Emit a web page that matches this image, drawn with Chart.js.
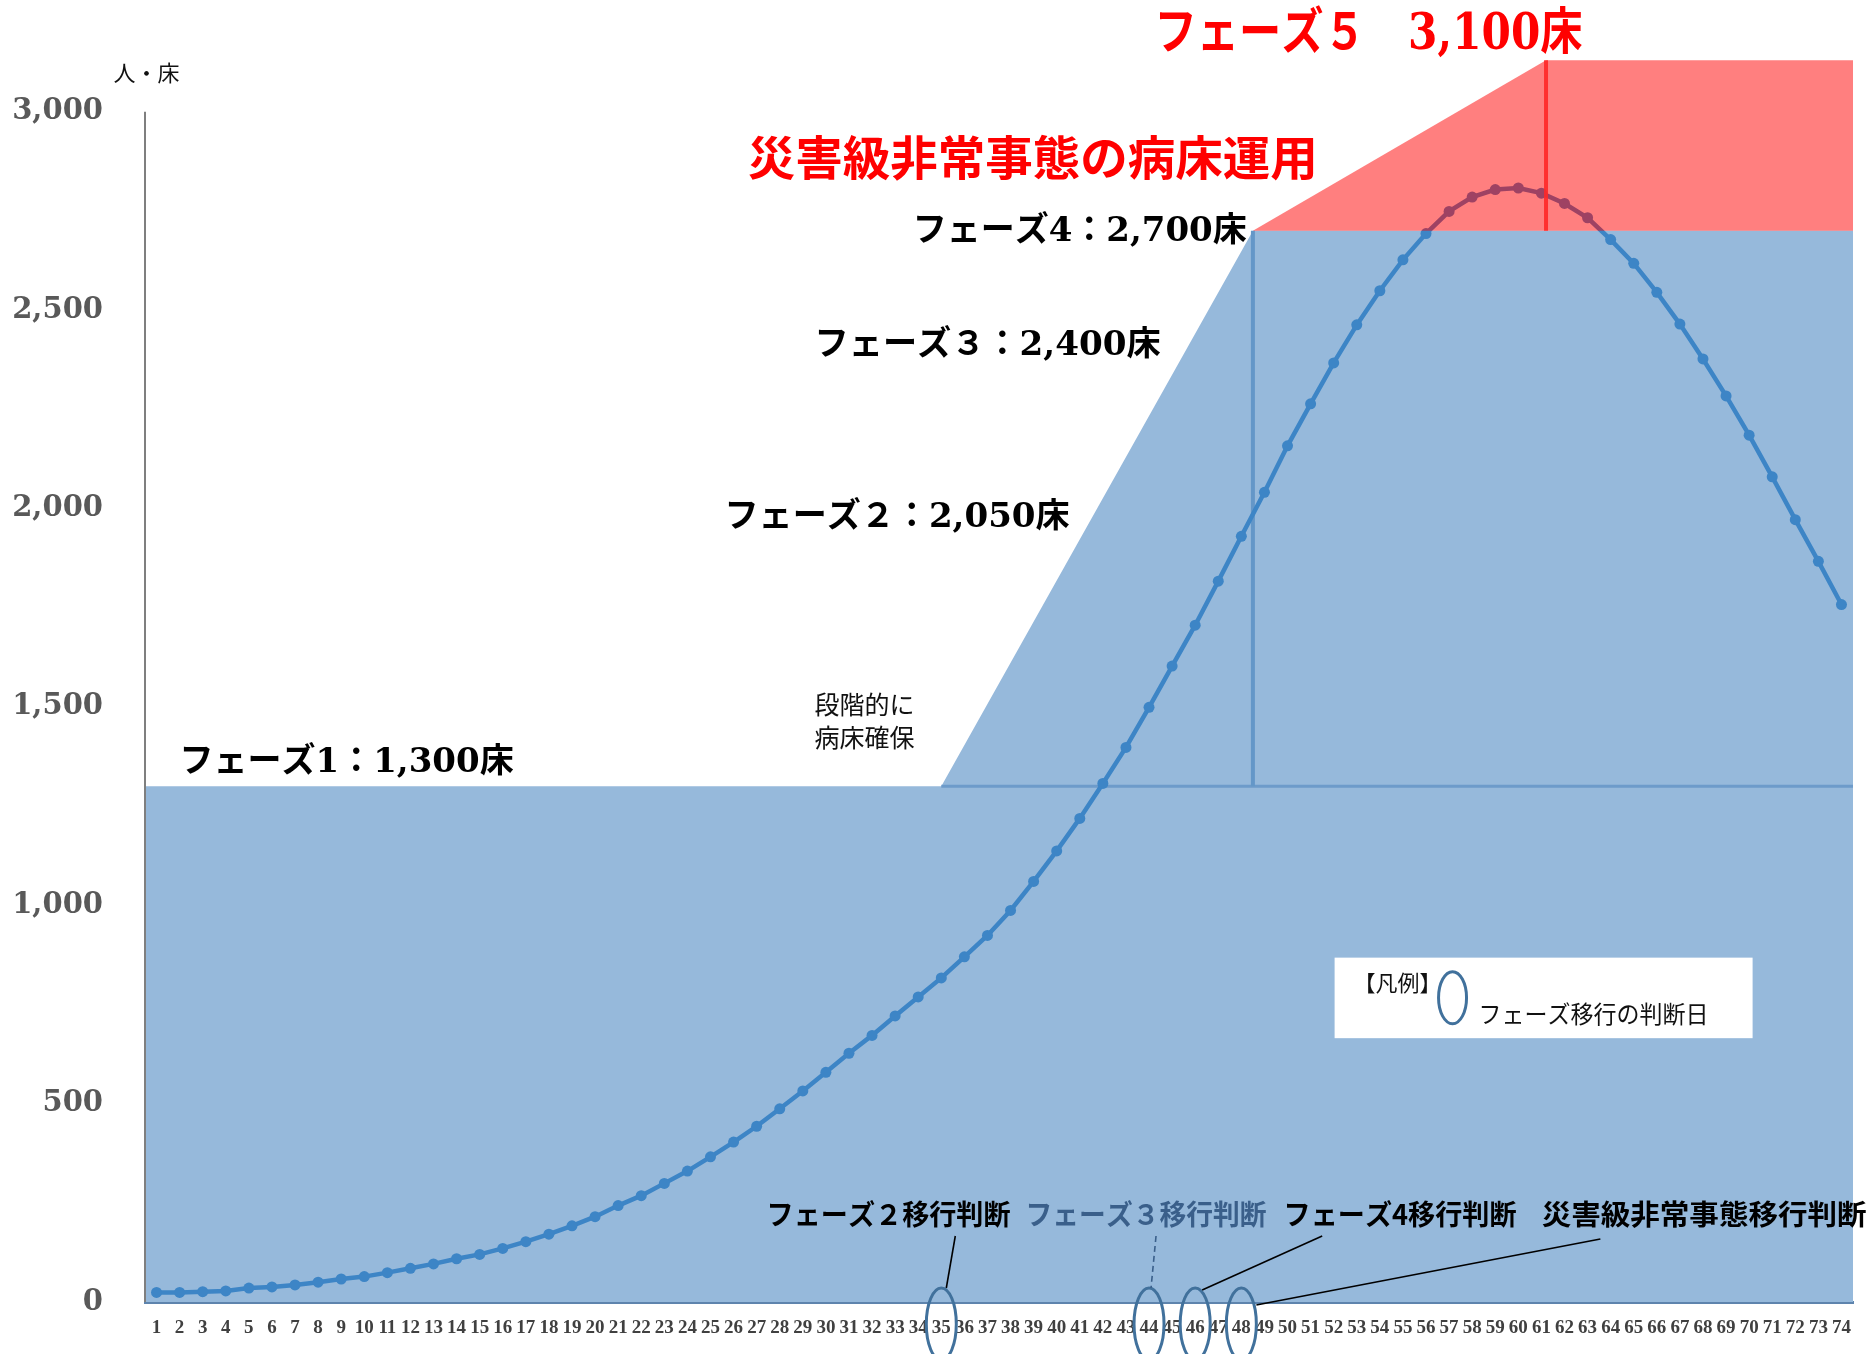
<!DOCTYPE html>
<html lang="ja">
<head>
<meta charset="utf-8">
<title>病床確保計画</title>
<script src="https://cdn.jsdelivr.net/npm/chart.js@4.4.1/dist/chart.umd.min.js"></script>
<style>
  html, body { margin: 0; padding: 0; background: #fff; }
  canvas { display: block; }
</style>
</head>
<body>
<canvas id="chart" width="1869" height="1354"></canvas>
<script>
// 日数（横軸）
const days = [1, 2, 3, 4, 5, 6, 7, 8, 9, 10, 11, 12, 13, 14, 15, 16, 17, 18, 19, 20,
  21, 22, 23, 24, 25, 26, 27, 28, 29, 30, 31, 32, 33, 34, 35, 36, 37, 38, 39, 40,
  41, 42, 43, 44, 45, 46, 47, 48, 49, 50, 51, 52, 53, 54, 55, 56, 57, 58, 59, 60,
  61, 62, 63, 64, 65, 66, 67, 68, 69, 70, 71, 72, 73, 74];
// 入院患者数（推計）
const patients = [24, 24, 26, 28, 35, 38, 43, 50, 58, 64, 74, 85, 96, 109, 120, 135, 152, 171, 192, 215,
  243, 268, 299, 330, 366, 403, 443, 487, 532, 579, 627, 672, 721, 769, 817, 870, 924, 987, 1060, 1137,
  1219, 1307, 1398, 1499, 1603, 1706, 1817, 1930, 2041, 2158, 2264, 2367, 2463, 2549, 2627, 2693, 2749, 2785, 2804, 2808,
  2795, 2769, 2733, 2678, 2618, 2545, 2465, 2377, 2284, 2185, 2080, 1972, 1867, 1758];
// 確保病床 フェーズ1〜4
const bedDays = [0.5, 35, 48.5, 74.5];
const beds = [1300, 1300, 2700, 2700];
// 災害級非常事態 フェーズ5
const emergencyDays = [48.5, 61.2, 74.5];
const emergencyBeds = [2700, 3130, 3130];
// フェーズ移行の判断日
const decisionDays = [35, 44, 46, 48];
const yTicks = [0, 500, 1000, 1500, 2000, 2500, 3000];

const JP = '"Noto Sans CJK JP", sans-serif';
const MIX = '"DejaVu Serif", "Noto Sans CJK JP", serif';

const pts = (xs, ys) => xs.map((x, i) => ({ x: x, y: ys[i] }));

// 注記（位置は軸の値で指定）
const notes = [
  { text: 'フェーズ５　3,100床', day: 44.24, value: 3190, size: 50, width: 428, color: '#ff0000', family: MIX, weight: 'bold' },
  { text: '災害級非常事態の病床運用', day: 26.61, value: 2886, size: 47, width: 570, color: '#ff0000', family: JP, weight: 'bold' },
  { text: 'フェーズ4：2,700床', day: 33.76, value: 2696, size: 34, width: 334, color: '#000', family: MIX, weight: 'bold' },
  { text: 'フェーズ３：2,400床', day: 29.51, value: 2410, size: 34, width: 346, color: '#000', family: MIX, weight: 'bold' },
  { text: 'フェーズ２：2,050床', day: 25.61, value: 1976, size: 34, width: 345, color: '#000', family: MIX, weight: 'bold' },
  { text: 'フェーズ1：1,300床', day: 2.0, value: 1357, size: 34, width: 334, color: '#000', family: MIX, weight: 'bold' },
  { text: '段階的に', day: 29.51, value: 1505, size: 25, color: '#111', family: JP, weight: 'normal' },
  { text: '病床確保', day: 29.51, value: 1422, size: 25, color: '#111', family: JP, weight: 'normal' },
  { text: 'フェーズ２移行判断', day: 27.43, value: 221, size: 28, width: 244, color: '#000', family: JP, weight: 'bold' },
  { text: 'フェーズ３移行判断', day: 38.65, value: 221, size: 28, width: 241, color: '#3a5f8a', family: JP, weight: 'bold' },
  { text: 'フェーズ4移行判断', day: 49.83, value: 221, size: 28, width: 233, color: '#000', family: JP, weight: 'bold' },
  { text: '災害級非常事態移行判断', day: 61.01, value: 221, size: 28, width: 325, color: '#000', family: JP, weight: 'bold' },
  { text: '人・床', day: -0.86, value: 3100, size: 22, color: '#111', family: JP, weight: 'normal' }
];

// 判断日の丸から注記への引き出し線（楕円中心からのずれ）
const leaders = [
  { from: [14, -88], to: [5, -36], color: '#000', dash: [] },
  { from: [7, -88], to: [2, -36], color: '#3a5f8a', dash: [6, 4] },
  { from: [127, -88], to: [7, -34], color: '#000', dash: [] },
  { from: [359, -85], to: [15, -19], color: '#000', dash: [] }
];

function drawText(ctx, n, x, y) {
  ctx.save();
  ctx.font = n.weight + ' ' + n.size + 'px ' + n.family;
  ctx.fillStyle = n.color;
  ctx.textBaseline = 'middle';
  ctx.textAlign = 'left';
  ctx.translate(x, y);
  if (n.width) {
    const w = ctx.measureText(n.text).width;
    ctx.scale(n.width / w, 1);
  }
  ctx.fillText(n.text, 0, 0);
  ctx.restore();
}

function ellipse(ctx, cx, cy, rx, ry, color) {
  ctx.save();
  ctx.beginPath();
  ctx.ellipse(cx, cy, rx, ry, 0, 0, Math.PI * 2);
  ctx.strokeStyle = color;
  ctx.lineWidth = 3;
  ctx.stroke();
  ctx.restore();
}

const overlay = {
  id: 'overlay',
  afterDraw(chart) {
    const ctx = chart.ctx;
    const xs = chart.scales.x, ys = chart.scales.y;
    const area = chart.chartArea;

    // 縦軸線
    ctx.save();
    ctx.strokeStyle = '#7f7f7f';
    ctx.lineWidth = 2;
    ctx.beginPath();
    ctx.moveTo(area.left, ys.getPixelForValue(yTicks[yTicks.length - 1]));
    ctx.lineTo(area.left, ys.getPixelForValue(0));
    ctx.stroke();
    ctx.restore();

    notes.forEach(n => drawText(ctx, n, xs.getPixelForValue(n.day), ys.getPixelForValue(n.value)));

    // 凡例
    const bx0 = xs.getPixelForValue(52.04), bx1 = xs.getPixelForValue(70.15);
    const by0 = ys.getPixelForValue(868), by1 = ys.getPixelForValue(665);
    ctx.fillStyle = '#fff';
    ctx.fillRect(bx0, by0, bx1 - bx0, by1 - by0);
    drawText(ctx, { text: '【凡例】', size: 22, color: '#111', family: JP, weight: 'normal' },
      xs.getPixelForValue(52.86), ys.getPixelForValue(805));
    ellipse(ctx, xs.getPixelForValue(57.15), ys.getPixelForValue(767), 14, 26, '#41719c');
    drawText(ctx, { text: 'フェーズ移行の判断日', size: 24, width: 230, color: '#111', family: JP, weight: 'normal' },
      xs.getPixelForValue(58.28), ys.getPixelForValue(725));

    // 判断日の丸と引き出し線
    const cy = ys.getPixelForValue(0) + 22;
    decisionDays.forEach((d, i) => {
      const cx = xs.getPixelForValue(d);
      ellipse(ctx, cx, cy, 15, 36, '#41719c');
      const l = leaders[i];
      ctx.save();
      ctx.strokeStyle = l.color;
      ctx.lineWidth = 1.6;
      ctx.setLineDash(l.dash);
      ctx.beginPath();
      ctx.moveTo(cx + l.from[0], cy + l.from[1]);
      ctx.lineTo(cx + l.to[0], cy + l.to[1]);
      ctx.stroke();
      ctx.restore();
    });
  }
};

new Chart(document.getElementById('chart').getContext('2d'), {
  type: 'line',
  data: {
    datasets: [
      {
        // フェーズ5の区切り線
        data: pts([emergencyDays[1], emergencyDays[1]], [emergencyBeds[0], emergencyBeds[1]]),
        borderColor: 'rgba(255,40,40,0.9)', borderWidth: 4, pointRadius: 0, fill: false
      },
      {
        data: pts(emergencyDays, emergencyBeds),
        fill: { value: emergencyBeds[0] }, backgroundColor: 'rgba(255,0,0,0.5)',
        borderColor: 'transparent', borderWidth: 0, pointRadius: 0
      },
      {
        data: pts(days, patients),
        borderColor: '#3d85c6', borderWidth: 4.5, pointRadius: 5.5,
        pointBackgroundColor: '#3d85c6', pointBorderWidth: 0, fill: false
      },
      {
        data: pts([bedDays[2], bedDays[2]], [beds[1], beds[2]]),
        borderColor: '#6497c8', borderWidth: 4, pointRadius: 0, fill: false
      },
      {
        data: pts([bedDays[1], bedDays[3]], [beds[1], beds[1]]),
        borderColor: '#6d9bca', borderWidth: 3, pointRadius: 0, fill: false
      },
      {
        data: pts(bedDays, beds),
        fill: 'origin', backgroundColor: '#96b9db',
        borderColor: 'transparent', borderWidth: 0, pointRadius: 0
      }
    ]
  },
  options: {
    responsive: false,
    devicePixelRatio: 1,
    animation: false,
    layout: { padding: { top: 0, right: 16, bottom: 0, left: 0 } },
    plugins: { legend: { display: false }, tooltip: { enabled: false } },
    elements: { line: { tension: 0 } },
    scales: {
      x: {
        type: 'linear', min: 0.5, max: 74.5,
        afterBuildTicks: s => { s.ticks = days.map(v => ({ value: v })); },
        afterFit: s => { s.height = 52; s.paddingLeft = 0; s.paddingRight = 0; },
        ticks: {
          autoSkip: false, maxRotation: 0, padding: 15, color: '#404040',
          font: { family: '"Liberation Serif", serif', weight: 'bold', size: 19 },
          callback: v => String(v)
        },
        grid: { display: false, drawTicks: false },
        border: { display: true, color: '#5e84ad', width: 3 }
      },
      y: {
        min: 0, max: 3268,
        afterBuildTicks: s => { s.ticks = yTicks.map(v => ({ value: v })); },
        afterFit: s => { s.width = 145; s.paddingTop = 0; s.paddingBottom = 0; },
        ticks: {
          padding: 42, color: '#595959',
          font: { family: '"DejaVu Serif", serif', weight: 'bold', size: 29 },
          callback: v => v.toLocaleString('en-US')
        },
        grid: { display: false, drawTicks: false },
        border: { display: false }
      }
    }
  },
  plugins: [overlay]
});
</script>
</body>
</html>
